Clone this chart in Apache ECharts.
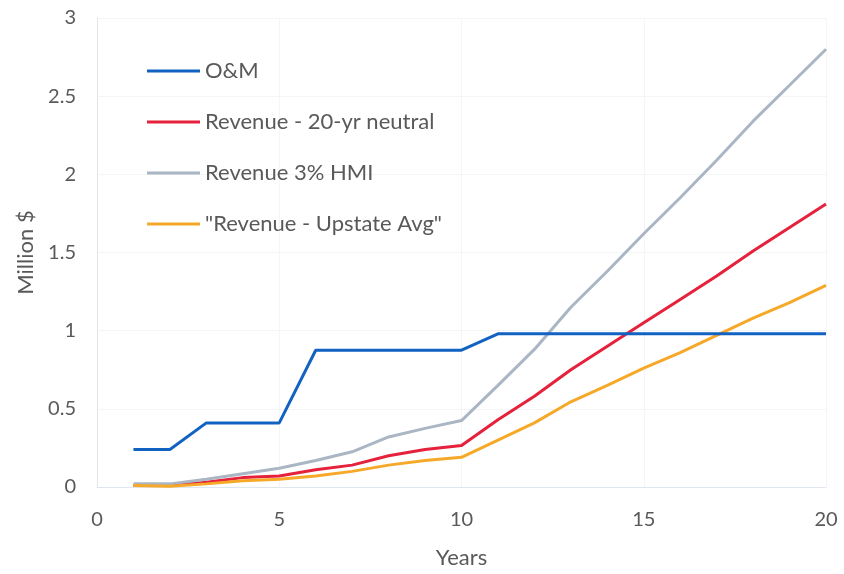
<!DOCTYPE html>
<html>
<head>
<meta charset="utf-8">
<script src="https://cdn.jsdelivr.net/npm/echarts@6/dist/echarts.min.js"></script>
<style>
  html, body { margin: 0; padding: 0; background: #fff; }
  #chart { width: 844px; height: 574px; }
</style>
</head>
<body>
<div id="chart"></div>
<script>
// years on the x axis
const years = [1, 2, 3, 4, 5, 6, 7, 8, 9, 10, 11, 12, 13, 14, 15, 16, 17, 18, 19, 20];

// values in million $
const omCost = [0.24, 0.24, 0.41, 0.41, 0.41, 0.875, 0.875, 0.875, 0.875, 0.875, 0.98, 0.98, 0.98, 0.98, 0.98, 0.98, 0.98, 0.98, 0.98, 0.98];
const revNeutral = [0.01, 0.01, 0.03, 0.06, 0.07, 0.11, 0.14, 0.20, 0.24, 0.265, 0.43, 0.58, 0.75, 0.90, 1.05, 1.20, 1.35, 1.51, 1.66, 1.81];
const revHmi = [0.02, 0.02, 0.05, 0.085, 0.12, 0.17, 0.225, 0.32, 0.375, 0.425, 0.65, 0.88, 1.15, 1.38, 1.62, 1.85, 2.09, 2.34, 2.57, 2.80];
const revUpstate = [0.01, 0.005, 0.02, 0.04, 0.05, 0.07, 0.10, 0.14, 0.17, 0.19, 0.30, 0.41, 0.545, 0.65, 0.76, 0.86, 0.97, 1.08, 1.18, 1.29];

const seriesNames = ['O&M', 'Revenue - 20-yr neutral', 'Revenue 3% HMI', '"Revenue - Upstate Avg"'];
const colors = ['#1262C2', '#E5213B', '#AAB6C3', '#F6A928'];

const textColor = '#595959';
const fontFamily = 'Lato, "Open Sans", sans-serif';

const pairs = arr => years.map((y, i) => [y, arr[i]]);
const allData = [omCost, revNeutral, revHmi, revUpstate];

const chart = echarts.init(document.getElementById('chart'));
chart.setOption({
  animation: false,
  backgroundColor: '#fff',
  textStyle: { fontFamily: fontFamily },
  grid: { left: 97, right: 18, top: 18, bottom: 87 },
  legend: {
    orient: 'vertical',
    left: 142,
    top: 55,
    icon: 'rect',
    itemWidth: 53,
    itemHeight: 3,
    itemGap: 29,
    textStyle: { color: textColor, fontSize: 22, fontFamily: fontFamily },
    data: seriesNames
  },
  xAxis: {
    type: 'value',
    min: 0, max: 20, interval: 5,
    name: 'Years',
    nameLocation: 'middle',
    nameGap: 60,
    nameTextStyle: { color: textColor, fontSize: 22 },
    axisLine: { show: true, lineStyle: { color: '#dfe6ee', width: 1 } },
    axisTick: { show: false },
    axisLabel: { color: textColor, fontSize: 20, margin: 23 },
    splitLine: { show: true, lineStyle: { color: '#f3f5f7' } }
  },
  yAxis: {
    type: 'value',
    min: 0, max: 3, interval: 0.5,
    name: 'Million $',
    nameLocation: 'middle',
    nameGap: 60,
    nameTextStyle: { color: textColor, fontSize: 22 },
    axisLine: { show: true, lineStyle: { color: '#dfe6ee', width: 1 } },
    axisTick: { show: false },
    axisLabel: { color: textColor, fontSize: 20, margin: 21 },
    splitLine: { show: true, lineStyle: { color: '#f3f5f7' } }
  },
  series: seriesNames.map((name, i) => ({
    name: name,
    type: 'line',
    data: pairs(allData[i]),
    symbol: 'none',
    showSymbol: false,
    lineStyle: { color: colors[i], width: 3 },
    itemStyle: { color: colors[i] },
    z: i === 0 ? 5 : 3
  }))
});
</script>
</body>
</html>
